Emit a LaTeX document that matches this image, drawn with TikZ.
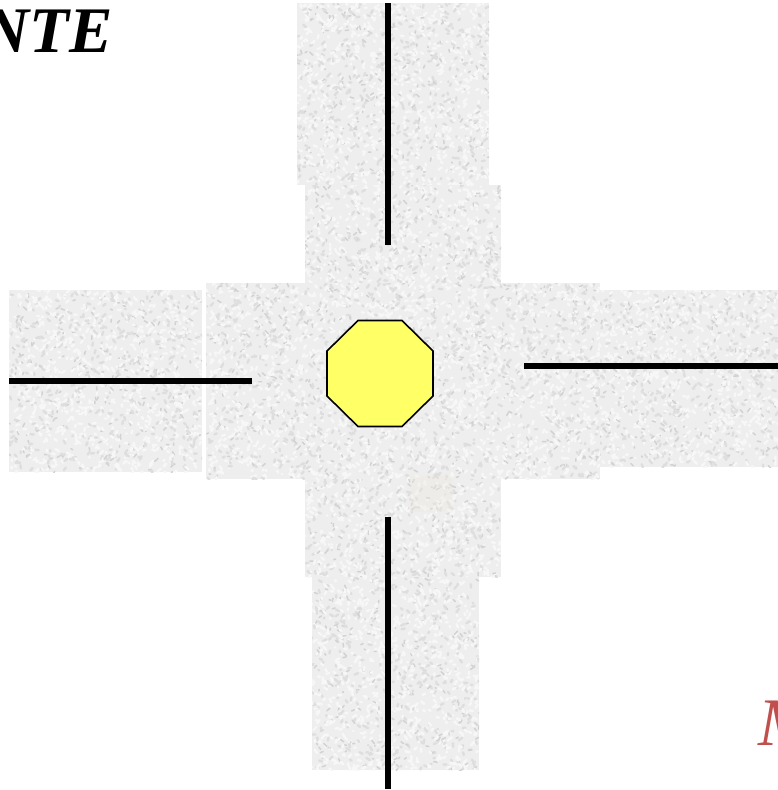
\documentclass[tikz,border=0pt]{standalone}
\usepackage{fontspec}
\setmainfont{Liberation Serif}
\definecolor{octfill}{HTML}{FFFF66}
\definecolor{redtext}{HTML}{C0504D}
\definecolor{texbase}{HTML}{EEEEEE}
\definecolor{texdark}{HTML}{DEDEDE}
\definecolor{texdarker}{HTML}{D2D2D2}
\definecolor{texlight}{HTML}{F7F7F7}
\definecolor{patchtone}{HTML}{F0E9E0}
\tikzset{
  road line/.style={line width=6pt,draw=black},
  speck/.style={line width=2.4pt,line cap=round},
}
\newcommand{\texrect}[4]{%
  \fill[texbase] (#1,#2) rectangle (#3,#4);
  \begin{scope}
    \clip (#1,#2) rectangle (#3,#4);
    \pgfmathtruncatemacro{\speckcount}{((#3-#1)/5)*((#4-#2)/5)}
    \foreach \i in {1,...,\speckcount}{
      \pgfmathsetmacro{\px}{#1+rnd*(#3-#1)}
      \pgfmathsetmacro{\py}{#2+rnd*(#4-#2)}
      \pgfmathsetmacro{\dx}{3.5*rand}
      \pgfmathsetmacro{\dy}{3.5*rand}
      \pgfmathtruncatemacro{\tone}{mod(\i,7)}
      \ifnum\tone=0
        \draw[speck,line width=1.5pt,texdarker] (\px,\py) -- ++(\dx,\dy);
      \else\ifnum\tone<3
        \draw[speck,texdark] (\px,\py) -- ++(\dx,\dy);
      \else
        \draw[speck,texlight] (\px,\py) -- ++(\dx,\dy);
      \fi\fi
    }
  \end{scope}%
}
\begin{document}
\begin{tikzpicture}[x=1pt,y=-1pt]
  \useasboundingbox (0,0) rectangle (778,790);
  \clip (0,0) rectangle (778,790);
  \pgfmathsetseed{4242}
  \texrect{297}{3}{489}{185}
  \texrect{305}{185}{501}{283}
  \texrect{206}{283}{600}{479}
  \texrect{305}{479}{501}{577}
  \texrect{312}{577}{479}{770}
  \texrect{9}{290}{202}{472}
  \texrect{600}{290}{778}{467}
  % faint patch
  \fill[patchtone,opacity=.35] (410,476) rectangle (453,512);
  % road lines
  \coordinate (topA) at (387.7,3);
  \coordinate (topB) at (387.7,245);
  \coordinate (botA) at (387.7,517);
  \coordinate (botB) at (387.7,789);
  \coordinate (leftA) at (9,381);
  \coordinate (leftB) at (252,381);
  \coordinate (rightA) at (524,366);
  \coordinate (rightB) at (778,366);
  \draw[road line] (topA) -- (topB);
  \draw[road line] (botA) -- (botB);
  \draw[road line] (leftA) -- (leftB);
  \draw[road line] (rightA) -- (rightB);
  % octagon
  \draw[fill=octfill,draw=black,line width=1.6pt,line join=miter]
    (358,320.5) -- (402,320.5) -- (433,351) -- (433,396) -- (402,426.5)
    -- (358,426.5) -- (327,396) -- (327,351) -- cycle;
  % clipped texts
  \node[anchor=base east,inner sep=0pt,font=\fontsize{65}{65}\selectfont\bfseries\itshape] (title) at (113,52) {NTE};
  \node[anchor=base west,inner sep=0pt,text=redtext,font=\fontsize{68}{68}\selectfont\itshape] (mark) at (758,745) {M};
\end{tikzpicture}
\end{document}
